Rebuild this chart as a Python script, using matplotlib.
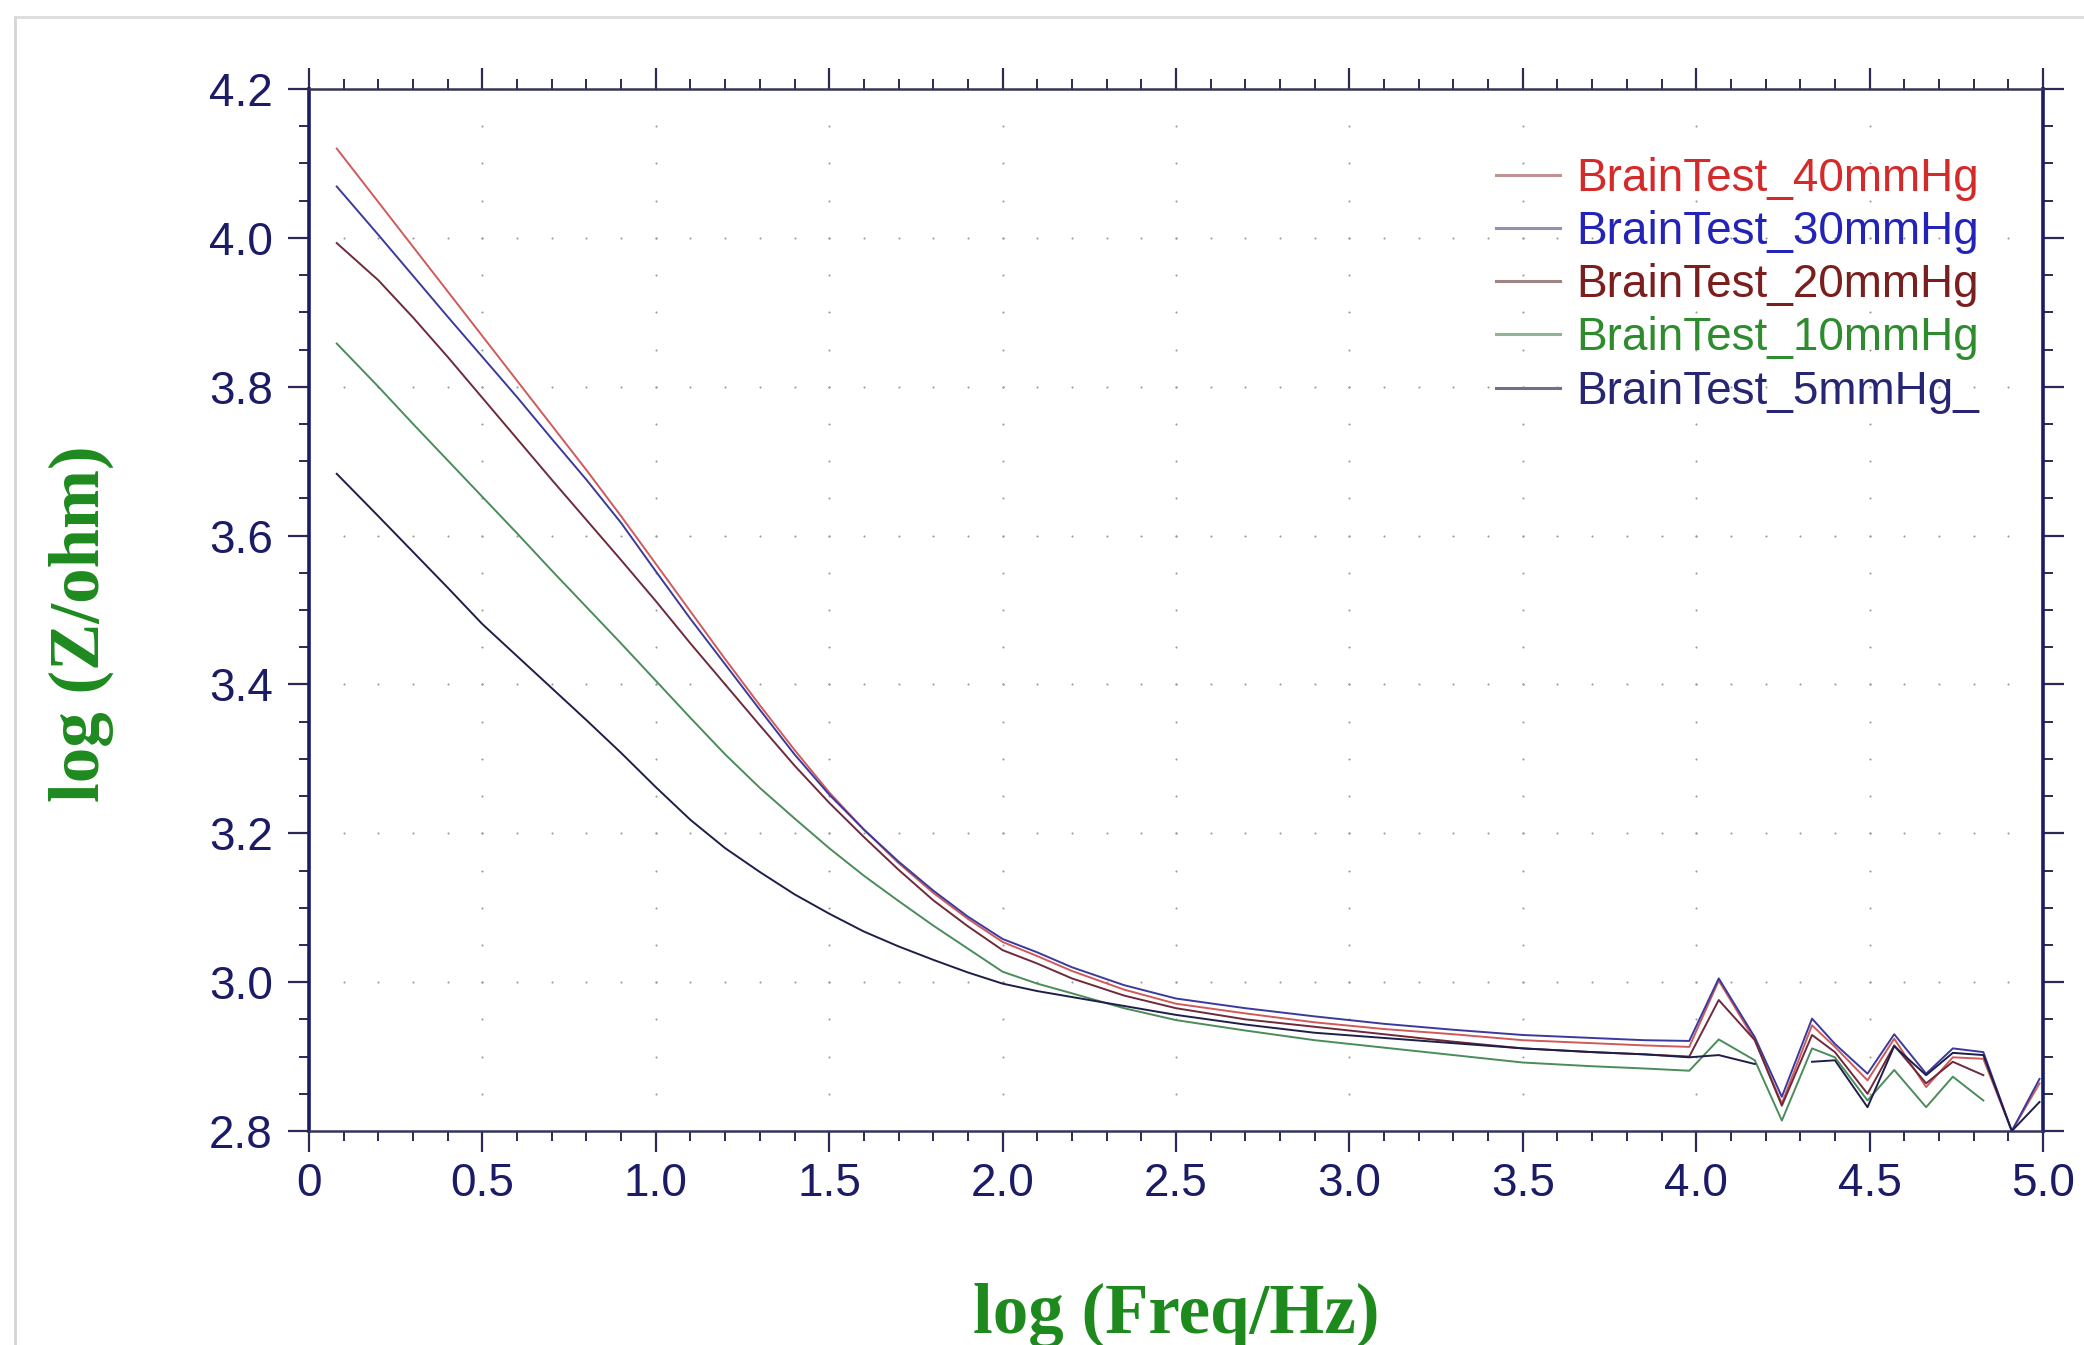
import numpy as np
import matplotlib
matplotlib.use('Agg')
import matplotlib.pyplot as plt
from matplotlib.lines import Line2D

# log frequency (shared x for all runs)
log_f = [0.08, 0.2, 0.3, 0.4, 0.5, 0.6, 0.7, 0.8, 0.9, 1.0,
         1.1, 1.2, 1.3, 1.4, 1.5, 1.6, 1.7, 1.8, 1.9, 2.0,
         2.1, 2.2, 2.35, 2.5, 2.7, 2.9, 3.1, 3.3, 3.5, 3.7,
         3.85, 3.98, 4.065, 4.169, 4.247, 4.334, 4.40, 4.494, 4.571, 4.663,
         4.74, 4.828, 4.91, 4.99]

nan = np.nan
z_40 = [4.120, 4.048, 3.988, 3.928, 3.868, 3.808, 3.748, 3.688, 3.626, 3.562,
        3.498, 3.434, 3.372, 3.312, 3.255, 3.205, 3.160, 3.120, 3.085, 3.054,
        3.035, 3.015, 2.990, 2.971, 2.958, 2.946, 2.937, 2.930, 2.922, 2.918,
        2.915, 2.913, 3.002, 2.922, 2.837, 2.942, 2.913, 2.868, 2.924, 2.859,
        2.899, 2.897, 2.800, 2.864]
z_30 = [4.069, 4.004, 3.949, 3.894, 3.840, 3.786, 3.730, 3.675, 3.617, 3.552,
        3.488, 3.427, 3.366, 3.306, 3.252, 3.205, 3.162, 3.123, 3.088, 3.058,
        3.040, 3.020, 2.996, 2.978, 2.965, 2.954, 2.944, 2.936, 2.929, 2.925,
        2.922, 2.921, 3.005, 2.926, 2.846, 2.951, 2.917, 2.877, 2.930, 2.877,
        2.911, 2.906, 2.800, 2.870]
z_20 = [3.993, 3.943, 3.893, 3.840, 3.785, 3.730, 3.675, 3.621, 3.567, 3.512,
        3.455, 3.400, 3.345, 3.291, 3.241, 3.195, 3.151, 3.110, 3.075, 3.043,
        3.025, 3.005, 2.982, 2.965, 2.950, 2.940, 2.930, 2.920, 2.911, 2.906,
        2.903, 2.900, 2.976, 2.922, 2.834, 2.929, 2.906, 2.850, 2.915, 2.864,
        2.893, 2.875, nan, nan]
z_10 = [3.858, 3.800, 3.750, 3.701, 3.652, 3.603, 3.553, 3.504, 3.455, 3.405,
        3.355, 3.306, 3.261, 3.220, 3.180, 3.143, 3.109, 3.076, 3.045, 3.014,
        2.998, 2.985, 2.965, 2.949, 2.935, 2.922, 2.912, 2.902, 2.892, 2.887,
        2.884, 2.881, 2.923, 2.895, 2.814, 2.911, 2.899, 2.841, 2.882, 2.832,
        2.873, 2.841, nan, nan]
z_5 = [3.683, 3.626, 3.578, 3.530, 3.481, 3.438, 3.395, 3.352, 3.308, 3.262,
       3.218, 3.180, 3.148, 3.118, 3.092, 3.068, 3.048, 3.030, 3.013, 2.998,
       2.988, 2.980, 2.968, 2.956, 2.943, 2.932, 2.925, 2.918, 2.911, 2.906,
       2.903, 2.899, 2.902, 2.890, nan, 2.893, 2.895, 2.832, 2.914, 2.875,
       2.905, 2.902, 2.800, 2.839]

labels = ['BrainTest_40mmHg', 'BrainTest_30mmHg', 'BrainTest_20mmHg',
          'BrainTest_10mmHg', 'BrainTest_5mmHg_']
line_colors = ['#d05a5a', '#3a3a9e', '#6e2a3a', '#4a8c5a', '#1e1e4a']
text_colors = ['#d42a2a', '#2323b8', '#7b1e1e', '#2e8b2e', '#262673']
handle_colors = ['#c09292', '#9090b2', '#a08484', '#92b496', '#70708e']

xtick_vals = [0, 0.5, 1.0, 1.5, 2.0, 2.5, 3.0, 3.5, 4.0, 4.5, 5.0]
xtick_labels = ['0', '0.5', '1.0', '1.5', '2.0', '2.5', '3.0', '3.5', '4.0', '4.5', '5.0']
ytick_vals = [2.8, 3.0, 3.2, 3.4, 3.6, 3.8, 4.0, 4.2]
ytick_labels = ['2.8', '3.0', '3.2', '3.4', '3.6', '3.8', '4.0', '4.2']

navy = '#1c1c66'
tick_font = ['Liberation Sans', 'DejaVu Sans']

W, H = 2084, 1345
fig = plt.figure(figsize=(W / 100, H / 100), dpi=100)

# picture frame (light border on top / left)
fig.add_artist(Line2D([15 / W, 15 / W], [0, 1 - 17 / H], transform=fig.transFigure,
                      color='#d4d4d4', lw=2))
fig.add_artist(Line2D([15 / W, 1], [1 - 17 / H, 1 - 17 / H], transform=fig.transFigure,
                      color='#dcdcdc', lw=2))

ax = fig.add_axes([309 / W, 1 - 1131 / H, (2043 - 309) / W, (1131 - 89) / H])
ax.set_xlim(0, 5)
ax.set_ylim(2.8, 4.2)

# dotted grid: dots at minor x on major y rows, and minor y on major x columns
gx_minor = np.arange(0.1, 5.0, 0.1)
gy_major = np.arange(3.0, 4.2, 0.2)
gx_major = np.arange(0.5, 5.0, 0.5)
gy_minor = np.arange(2.85, 4.2, 0.05)
X1, Y1 = np.meshgrid(gx_minor, gy_major)
X2, Y2 = np.meshgrid(gx_major, gy_minor)
ax.plot(X1.ravel(), Y1.ravel(), ls='none', marker='o', ms=1.5, mew=0, color='#9a9a9a', zorder=1)
ax.plot(X2.ravel(), Y2.ravel(), ls='none', marker='o', ms=1.5, mew=0, color='#9a9a9a', zorder=1)

series = [z_40, z_30, z_20, z_10, z_5]
for z, c, lab in zip(series, line_colors, labels):
    ax.plot(log_f, z, color=c, lw=1.4, label=lab, zorder=3)

ax.set_xticks(xtick_vals)
ax.set_xticklabels(xtick_labels)
ax.set_yticks(ytick_vals)
ax.set_yticklabels(ytick_labels)
ax.set_xticks(np.arange(0, 5.01, 0.1), minor=True)
ax.set_yticks(np.arange(2.8, 4.201, 0.05), minor=True)

ax.tick_params(which='both', direction='out', top=True, right=True,
               labeltop=False, labelright=False, color='#2a2a55')
ax.tick_params(which='major', length=15, width=1.6, labelsize=33, labelcolor=navy)
ax.tick_params(which='minor', length=7.5, width=1.4)
ax.tick_params(axis='x', which='major', pad=7)
ax.tick_params(axis='y', which='major', pad=11)
for t in ax.get_xticklabels() + ax.get_yticklabels():
    t.set_family(tick_font)

for side in ['left', 'right']:
    ax.spines[side].set_linewidth(2.6)
    ax.spines[side].set_color(navy)
for side in ['top', 'bottom']:
    ax.spines[side].set_linewidth(1.8)
    ax.spines[side].set_color('#35355a')

leg = ax.legend(loc='upper left', bbox_to_anchor=(1496 / W, 1 - 157 / H),
                bbox_transform=fig.transFigure, frameon=False,
                prop={'family': tick_font, 'size': 33},
                handlelength=1.39, handletextpad=0.37, labelspacing=0.2,
                borderpad=0, borderaxespad=0)
for txt, c in zip(leg.get_texts(), text_colors):
    txt.set_color(c)
for ln, c in zip(leg.get_lines(), handle_colors):
    ln.set_color(c)
    ln.set_linewidth(2.2)

label_font = {'family': ['Liberation Serif', 'DejaVu Serif'], 'weight': 'bold',
              'size': 51, 'color': '#1e8a1e'}
fig.text(1176 / W, 12 / H, 'log (Freq/Hz)', ha='center', va='baseline', **label_font)
fig.text(81 / W, 1 - 624 / H, 'log (Z/ohm)', ha='center', va='center',
         rotation=90, **label_font)

fig.savefig('out.png', dpi=100)
